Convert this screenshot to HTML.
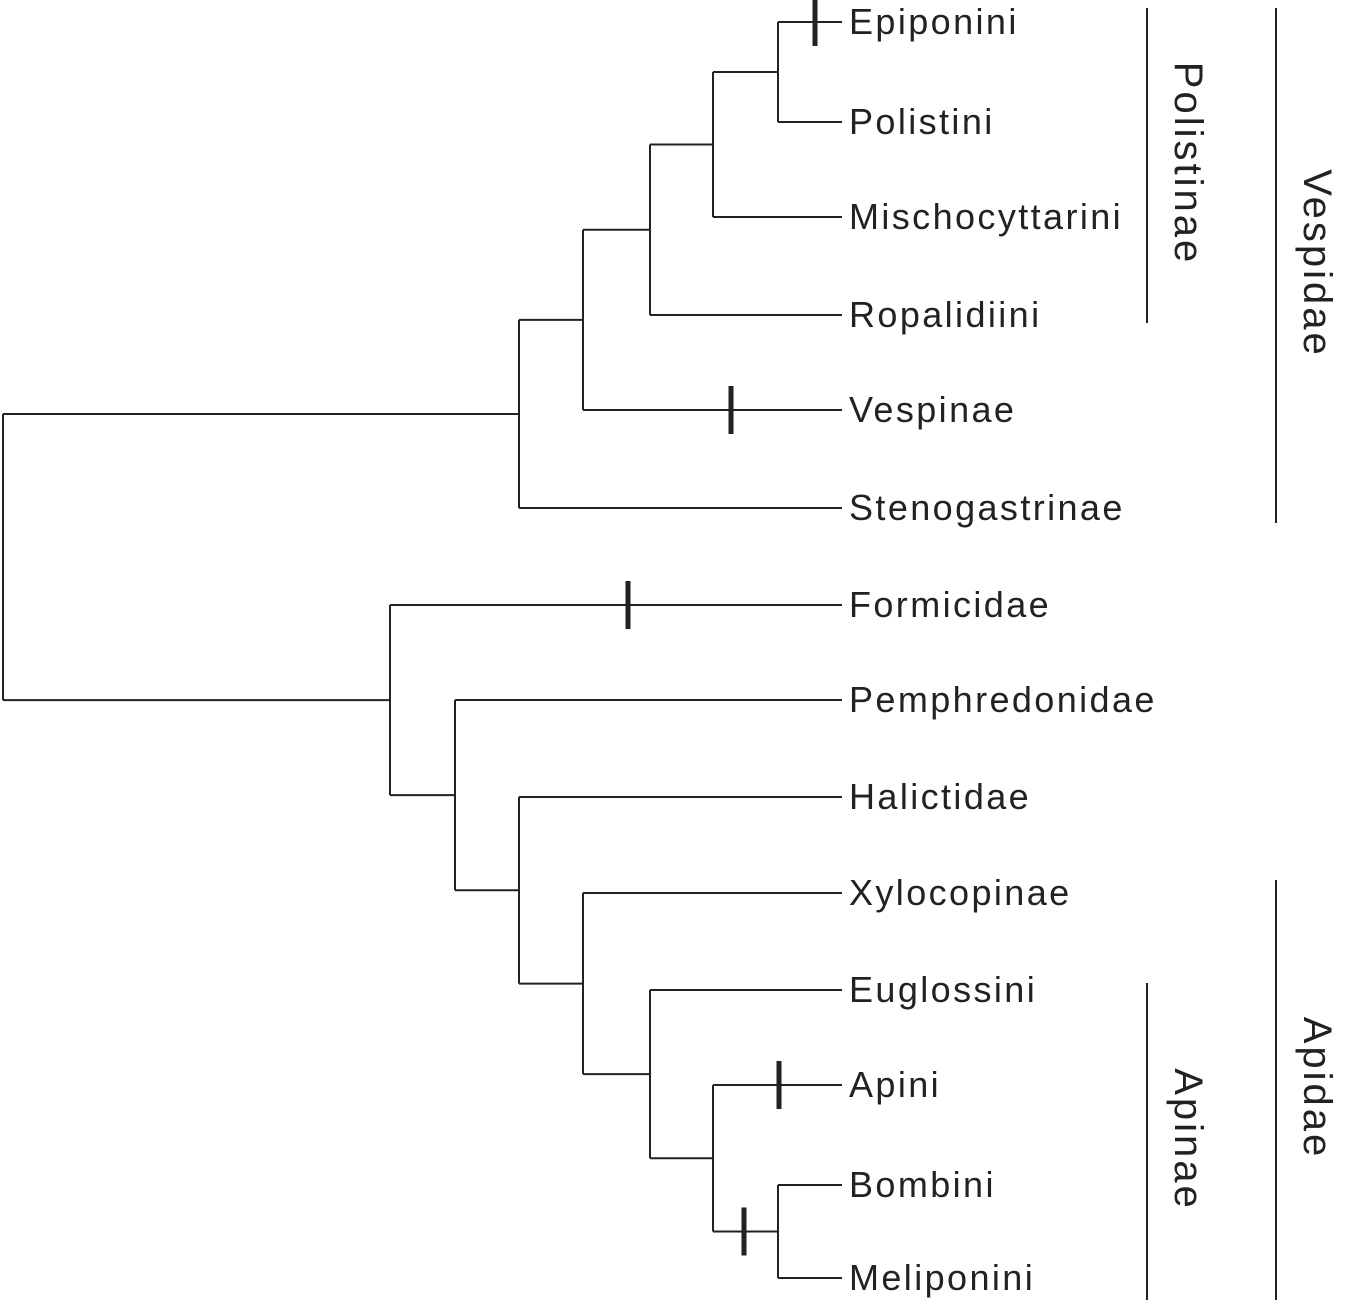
<!DOCTYPE html>
<html><head><meta charset="utf-8"><style>
html,body{margin:0;padding:0;background:#fff;}
svg{display:block;}
text{font-family:"Liberation Sans",sans-serif;fill:#222;}
</style></head><body>
<svg width="1350" height="1307" viewBox="0 0 1350 1307">
<g id="tree" stroke="#222" stroke-width="2" fill="none"></g>
<g id="labels"></g>
<g id="brackets"></g>
</svg>
<script>
const leaves = ["Epiponini","Polistini","Mischocyttarini","Ropalidiini","Vespinae","Stenogastrinae","Formicidae","Pemphredonidae","Halictidae","Xylocopinae","Euglossini","Apini","Bombini","Meliponini"];
const leafY = [22,122,217,315,410,508,605,700,797,893,990,1085,1185,1278];
const nodes = [
 ["n1",778,0,1],["n2",713,"n1",2],["n3",650,"n2",3],["n4",583,"n3",4],["n5",519,"n4",5],
 ["m1",778,12,13],["m2",713,11,"m1"],["m3",650,10,"m2"],["m4",583,9,"m3"],["m5",519,8,"m4"],
 ["m6",455,7,"m5"],["m7",390,6,"m6"],["root",3,"n5","m7"]
];
const ticks = [[0,815],[4,731],[6,628],[11,779],["m1",744]];
const brackets = [["Polistinae",1147,8,323],["Vespidae",1276,8,523],["Apinae",1147,983,1300],["Apidae",1276,880,1300]];
const leafX = 842;
const NS="http://www.w3.org/2000/svg";
const tree=document.getElementById('tree'), lab=document.getElementById('labels'), br=document.getElementById('brackets');
const pos={};
leaves.forEach((n,i)=>pos[i]={x:leafX,y:leafY[i]});
function line(g,x1,y1,x2,y2,name,w){
 const l=document.createElementNS(NS,'line');
 l.setAttribute('x1',x1);l.setAttribute('y1',y1);l.setAttribute('x2',x2);l.setAttribute('y2',y2);
 if(w){l.setAttribute('stroke-width',w);l.setAttribute('stroke','#222');}
 
 
 g.appendChild(l);return l;
}
nodes.forEach(([n,x,a,b])=>{
 const A=pos[a],B=pos[b];
 line(tree,x,A.y,A.x,A.y,'branch-'+n+'-a');
 line(tree,x,B.y,B.x,B.y,'branch-'+n+'-b');
 line(tree,x,A.y,x,B.y,'node-'+n);
 pos[n]={x:x,y:(A.y+B.y)/2};
});
ticks.forEach(([k,x])=>{
 const y=pos[k].y;
 line(tree,x,y-24,x,y+24,'trait-mark',5);
});
leaves.forEach((n,i)=>{
 const t=document.createElementNS(NS,'text');
 t.setAttribute('x',849);t.setAttribute('y',leafY[i]+12);t.setAttribute('font-size',36);
 t.setAttribute('letter-spacing','2.4');
 t.textContent=n;
 
 
 lab.appendChild(t);
});
brackets.forEach(([n,x,y1,y2])=>{
 line(br,x,y1,x,y2,'bracket-'+n.toLowerCase(),2);
 const t=document.createElementNS(NS,'text');
 const cx=x+41, cy=(y1+y2)/2-2;
 t.setAttribute('x',cx);t.setAttribute('y',cy);t.setAttribute('font-size',40);
 t.setAttribute('letter-spacing','3');
 t.setAttribute('text-anchor','middle');t.setAttribute('dominant-baseline','central');
 t.setAttribute('transform','rotate(90 '+cx+' '+cy+')');
 t.textContent=n;
 
 
 br.appendChild(t);
});
</script>
</body></html>
